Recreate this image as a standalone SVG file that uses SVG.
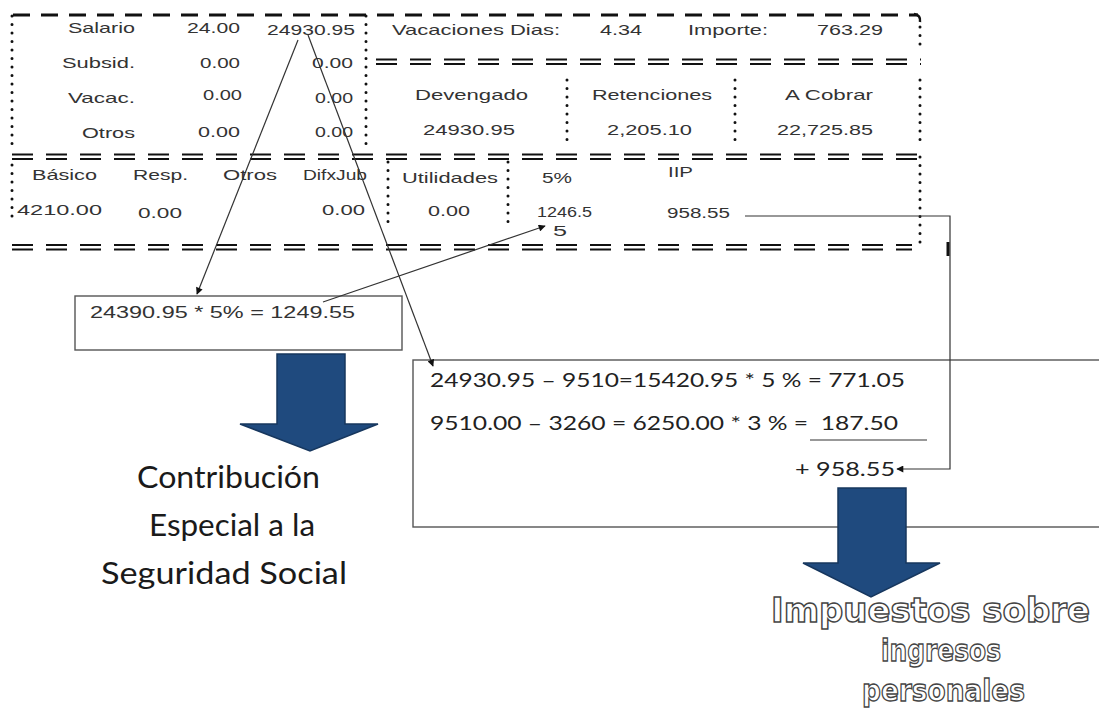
<svg xmlns="http://www.w3.org/2000/svg" width="1099" height="709" viewBox="0 0 1099 709">
<style>
.t{font-family:"Liberation Sans",Arial,sans-serif;font-size:15px;fill:#333}
.c{font-family:Lato,"Open Sans",sans-serif;font-size:19px;fill:#222}
.big{font-family:Lato,"Open Sans",sans-serif;font-size:31px;fill:#1a1a1a}
.hol{font-family:"DejaVu Sans",sans-serif;font-weight:bold;font-size:33px;fill:#fff;stroke:#444;stroke-width:1.4}
.hol2{font-family:"DejaVu Sans",sans-serif;font-weight:bold;font-size:31px;fill:#fff;stroke:#444;stroke-width:1.4}
.dot{stroke:#111;stroke-width:3;stroke-dasharray:0 8.5;stroke-linecap:round;fill:none}
.dd{stroke:#111;stroke-width:2.2;stroke-dasharray:21 13;fill:none}
.ds{stroke:#111;stroke-width:3;stroke-dasharray:17 11;fill:none}
.ln{stroke:#333;stroke-width:1.2;fill:none}
.box{stroke:#555;stroke-width:1.4;fill:#fff}
.blue{fill:#1f4a7e;stroke:#17375e;stroke-width:1.5}
</style>
<defs>
<marker id="ah" viewBox="0 0 10 10" refX="9" refY="5" markerWidth="8" markerHeight="7" markerUnits="userSpaceOnUse" orient="auto"><path d="M0,0 L10,5 L0,10 z" fill="#111"/></marker>
</defs>
<rect width="1099" height="709" fill="#fff"/>

<g id="table">
<line class="ds" x1="13" y1="15" x2="918" y2="15"/>
<path d="M914,14 Q921,15 920,22" stroke="#111" stroke-width="2.5" fill="none"/>
<line class="dot" x1="12" y1="16" x2="12" y2="148"/>
<line class="dot" x1="366" y1="16" x2="366" y2="148"/>
<line class="dot" x1="920" y1="27" x2="920" y2="45"/>
<g><line class="dd" x1="376" y1="59.5" x2="921" y2="59.5"/><line class="dd" x1="376" y1="64" x2="921" y2="64"/></g>
<line class="dot" x1="567" y1="80" x2="567" y2="143"/>
<line class="dot" x1="735" y1="80" x2="735" y2="143"/>
<line class="dot" x1="920" y1="80" x2="920" y2="143"/>
<g><line class="dd" x1="12" y1="154.5" x2="921" y2="154.5"/><line class="dd" x1="12" y1="159" x2="921" y2="159"/></g>
<line class="dot" x1="12" y1="165" x2="12" y2="222"/>
<line class="dot" x1="388" y1="162" x2="388" y2="222"/>
<line class="dot" x1="508" y1="162" x2="508" y2="222"/>
<line class="dot" x1="920" y1="157" x2="920" y2="250"/>
<g><line class="dd" x1="12" y1="245" x2="912" y2="245"/><line class="dd" x1="12" y1="249.5" x2="912" y2="249.5"/></g>

<text class="t" x="68" y="33" textLength="67" lengthAdjust="spacingAndGlyphs">Salario</text>
<text class="t" x="187" y="33" textLength="53" lengthAdjust="spacingAndGlyphs">24.00</text>
<text class="t" x="267" y="35" textLength="88" lengthAdjust="spacingAndGlyphs">24930.95</text>
<text class="t" x="62" y="68" textLength="73" lengthAdjust="spacingAndGlyphs">Subsid.</text>
<text class="t" x="200" y="68" textLength="40" lengthAdjust="spacingAndGlyphs">0.00</text>
<text class="t" x="312" y="68" textLength="41" lengthAdjust="spacingAndGlyphs">0.00</text>
<text class="t" x="68" y="103" textLength="67" lengthAdjust="spacingAndGlyphs">Vacac.</text>
<text class="t" x="203" y="100" textLength="39" lengthAdjust="spacingAndGlyphs">0.00</text>
<text class="t" x="315" y="103" textLength="38" lengthAdjust="spacingAndGlyphs">0.00</text>
<text class="t" x="82" y="138" textLength="53" lengthAdjust="spacingAndGlyphs">Otros</text>
<text class="t" x="198" y="137" textLength="42" lengthAdjust="spacingAndGlyphs">0.00</text>
<text class="t" x="315" y="137" textLength="38" lengthAdjust="spacingAndGlyphs">0.00</text>

<text class="t" x="392" y="35" textLength="168" lengthAdjust="spacingAndGlyphs">Vacaciones Dias:</text>
<text class="t" x="600" y="35" textLength="42" lengthAdjust="spacingAndGlyphs">4.34</text>
<text class="t" x="688" y="35" textLength="80" lengthAdjust="spacingAndGlyphs">Importe:</text>
<text class="t" x="817" y="35" textLength="66" lengthAdjust="spacingAndGlyphs">763.29</text>
<text class="t" x="415" y="100" textLength="113" lengthAdjust="spacingAndGlyphs">Devengado</text>
<text class="t" x="592" y="100" textLength="120" lengthAdjust="spacingAndGlyphs">Retenciones</text>
<text class="t" x="785" y="100" textLength="88" lengthAdjust="spacingAndGlyphs">A Cobrar</text>
<text class="t" x="423" y="135" textLength="92" lengthAdjust="spacingAndGlyphs">24930.95</text>
<text class="t" x="607" y="135" textLength="85" lengthAdjust="spacingAndGlyphs">2,205.10</text>
<text class="t" x="777" y="135" textLength="96" lengthAdjust="spacingAndGlyphs">22,725.85</text>

<text class="t" x="32" y="180" textLength="65" lengthAdjust="spacingAndGlyphs">Básico</text>
<text class="t" x="133" y="180" textLength="55" lengthAdjust="spacingAndGlyphs">Resp.</text>
<text class="t" x="223" y="180" textLength="54" lengthAdjust="spacingAndGlyphs">Otros</text>
<text class="t" x="303" y="180" textLength="64" lengthAdjust="spacingAndGlyphs">DifxJub</text>
<text class="t" x="17" y="215" textLength="85" lengthAdjust="spacingAndGlyphs">4210.00</text>
<text class="t" x="138" y="218" textLength="44" lengthAdjust="spacingAndGlyphs">0.00</text>
<text class="t" x="322" y="215" textLength="43" lengthAdjust="spacingAndGlyphs">0.00</text>
<text class="t" x="402" y="183" textLength="96" lengthAdjust="spacingAndGlyphs">Utilidades</text>
<text class="t" x="542" y="183" textLength="30" lengthAdjust="spacingAndGlyphs">5%</text>
<text class="t" x="668" y="177" textLength="25" lengthAdjust="spacingAndGlyphs">IIP</text>
<text class="t" x="428" y="216" textLength="42" lengthAdjust="spacingAndGlyphs">0.00</text>
<text class="t" x="537" y="217" textLength="55" lengthAdjust="spacingAndGlyphs">1246.5</text>
<text class="t" x="553" y="236" textLength="14" lengthAdjust="spacingAndGlyphs">5</text>
<text class="t" x="667" y="218" textLength="63" lengthAdjust="spacingAndGlyphs">958.55</text>
</g>

<g id="node-ces-calc">
<rect class="box" x="75" y="296" width="327" height="54"/>
<text class="t" x="90" y="318" style="font-size:17px" textLength="265" lengthAdjust="spacingAndGlyphs">24390.95 * 5% = 1249.55</text>
</g>

<g id="node-iip-calc">
<rect class="box" x="413" y="360" width="700" height="167"/>
<text class="c" x="430" y="387" textLength="475" lengthAdjust="spacingAndGlyphs">24930.95 – 9510=15420.95 * 5 % = 771.05</text>
<text class="c" x="430" y="430" textLength="468" lengthAdjust="spacingAndGlyphs">9510.00 – 3260 = 6250.00 * 3 % =&#160;&#160;187.50</text>
<line class="ln" x1="810" y1="440" x2="927" y2="440"/>
<text class="c" x="795" y="476" textLength="100" lengthAdjust="spacingAndGlyphs">+ 958.55</text>
</g>

<g id="node-arrow-ces">
<path class="blue" d="M277,354 H345 V424 H378 L310,451 L240,424 H277 Z"/>
</g>
<g id="node-arrow-iip">
<path class="blue" d="M838,488 H906 V563 H940 L871,597 L803,563 H838 Z"/>
</g>

<g id="node-ces-label">
<text class="big" x="137" y="488" textLength="183" lengthAdjust="spacingAndGlyphs">Contribución</text>
<text class="big" x="149" y="536" textLength="166" lengthAdjust="spacingAndGlyphs">Especial a la</text>
<text class="big" x="101" y="584" textLength="246" lengthAdjust="spacingAndGlyphs">Seguridad Social</text>
</g>

<g id="node-iip-label">
<text class="hol" x="771" y="622" textLength="319" lengthAdjust="spacingAndGlyphs">Impuestos sobre</text>
<text class="hol2" x="881" y="661" textLength="120" lengthAdjust="spacingAndGlyphs">ingresos</text>
<text class="hol2" x="862" y="701" textLength="163" lengthAdjust="spacingAndGlyphs">personales</text>
</g>

<g id="connectors">
<line class="ln" x1="298" y1="40" x2="197" y2="294" marker-end="url(#ah)"/>
<line class="ln" x1="308" y1="35" x2="433" y2="366" marker-end="url(#ah)"/>
<line class="ln" x1="323" y1="302" x2="545" y2="226" marker-end="url(#ah)"/>
<polyline class="ln" points="745,216 950,216 950,469 897,469" marker-end="url(#ah)"/>
<line x1="948" y1="242" x2="948" y2="256" stroke="#111" stroke-width="3"/>
</g>
</svg>
